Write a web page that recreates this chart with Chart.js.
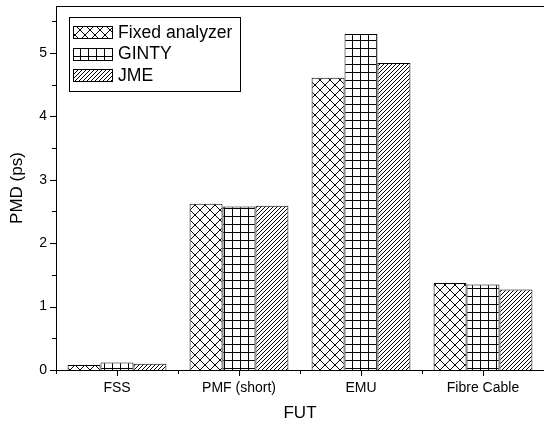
<!DOCTYPE html>
<html>
<head>
<meta charset="utf-8">
<script src="https://cdn.jsdelivr.net/npm/chart.js@4.4.1/dist/chart.umd.min.js"></script>
<style>
  html, body { margin: 0; padding: 0; background: #fff; }
</style>
</head>
<body>
<canvas id="pmd" width="544" height="427"></canvas>
<script>
const categories = ["FSS", "PMF (short)", "EMU", "Fibre Cable"];
const seriesNames = ["Fixed analyzer", "GINTY", "JME"];
const fixedAnalyzer = [0.08, 2.62, 4.61, 1.37];
const ginty = [0.12, 2.58, 5.30, 1.35];
const jme = [0.10, 2.59, 4.84, 1.27];
const yTicks = [0, 1, 2, 3, 4, 5];

const canvas = document.getElementById("pmd");
const ctx = canvas.getContext("2d");
const FONT = "Arial, 'Liberation Sans', sans-serif";

// hatch fills: crosshatch, square grid, forward diagonal
function makePattern(kind) {
  const size = kind === "cross" ? 10 : kind === "grid" ? 8 : 4;
  const c = document.createElement("canvas");
  c.width = size;
  c.height = size;
  const g = c.getContext("2d");
  g.fillStyle = "#fff";
  g.fillRect(0, 0, size, size);
  g.strokeStyle = "#000";
  g.lineWidth = 1;
  g.beginPath();
  if (kind === "cross") {
    g.moveTo(0, 0); g.lineTo(size, size);
    g.moveTo(0, size); g.lineTo(size, 0);
  } else if (kind === "grid") {
    g.moveTo(0.5, 0); g.lineTo(0.5, size);
    g.moveTo(0, 0.5); g.lineTo(size, 0.5);
  } else {
    g.moveTo(-1, size + 1); g.lineTo(size + 1, -1);
    g.moveTo(-1, 1); g.lineTo(1, -1);
    g.moveTo(size - 1, size + 1); g.lineTo(size + 1, size - 1);
  }
  g.stroke();
  return ctx.createPattern(c, "repeat");
}

const fills = [makePattern("cross"), makePattern("grid"), makePattern("diag")];

// axis lines, frame top and in/out tick marks
const axisFrame = {
  id: "axisFrame",
  afterDraw(chart) {
    const { left, right, top, bottom } = chart.chartArea;
    const x = chart.scales.x, y = chart.scales.y;
    const c = chart.ctx;
    c.save();
    c.strokeStyle = "#000";
    c.lineWidth = 1;
    c.beginPath();
    c.moveTo(Math.round(left) + 0.5, top);
    c.lineTo(Math.round(left) + 0.5, bottom);
    c.moveTo(left, Math.round(bottom) + 0.5);
    c.lineTo(right, Math.round(bottom) + 0.5);
    c.moveTo(left, Math.round(top) + 0.5);
    c.lineTo(right, Math.round(top) + 0.5);
    // y ticks, major on integers, minor in between
    yTicks.forEach(v => {
      const py = Math.round(y.getPixelForValue(v)) + 0.5;
      c.moveTo(left - 6, py); c.lineTo(left, py);
      const pm = Math.round(y.getPixelForValue(v + 0.5)) + 0.5;
      if (pm > top) { c.moveTo(left - 4, pm); c.lineTo(left, pm); }
    });
    // x ticks at category centres and boundaries
    categories.forEach((cat, i) => {
      const px = Math.round(x.getPixelForValue(i)) + 0.5;
      c.moveTo(px, bottom); c.lineTo(px, bottom + 6);
      const pb = Math.round(x.getPixelForValue(i - 0.5)) + 0.5;
      c.moveTo(pb, bottom); c.lineTo(pb, bottom + 4);
    });
    c.stroke();
    c.restore();
  }
};

// boxed legend in the upper left corner of the plot
const boxLegend = {
  id: "boxLegend",
  afterDraw(chart) {
    const { left, top } = chart.chartArea;
    const c = chart.ctx;
    const x0 = Math.round(left) + 13, y0 = Math.round(top) + 11;
    c.save();
    c.strokeStyle = "#000";
    c.lineWidth = 1;
    c.fillStyle = "#fff";
    c.fillRect(x0, y0, 171, 74);
    c.strokeRect(x0 + 0.5, y0 + 0.5, 171, 74);
    c.font = "17.6px " + FONT;
    c.textBaseline = "middle";
    chart.data.datasets.forEach((ds, i) => {
      const cy = y0 + 15 + i * 21.5;
      const sy = Math.round(cy - 6);
      c.fillStyle = ds.backgroundColor;
      c.fillRect(x0 + 4, sy, 39, 12);
      c.strokeRect(x0 + 4.5, sy + 0.5, 39, 12);
      c.fillStyle = "#000";
      c.fillText(ds.label, x0 + 49, cy + 1);
    });
    c.restore();
  }
};

new Chart(canvas, {
  type: "bar",
  data: {
    labels: categories,
    datasets: [
      { label: seriesNames[0], data: fixedAnalyzer, backgroundColor: fills[0] },
      { label: seriesNames[1], data: ginty, backgroundColor: fills[1] },
      { label: seriesNames[2], data: jme, backgroundColor: fills[2] },
    ].map(ds => Object.assign(ds, { borderColor: "#000", borderWidth: 1 })),
  },
  options: {
    responsive: false,
    animation: false,
    devicePixelRatio: 1,
    layout: { padding: { top: 6, right: 0, left: 0, bottom: 0 } },
    datasets: { bar: { categoryPercentage: 0.81, barPercentage: 1 } },
    plugins: { legend: { display: false }, tooltip: { enabled: false } },
    scales: {
      x: {
        grid: { display: false, drawTicks: false },
        border: { display: false },
        ticks: { color: "#000", font: { family: FONT, size: 14 }, padding: 10, maxRotation: 0 },
        title: { display: true, text: "FUT", color: "#000", font: { family: FONT, size: 17 }, padding: { top: 0, bottom: 3 } },
        afterFit(s) { s.height = 57; s.paddingLeft = 0; s.paddingRight = 0; },
      },
      y: {
        min: 0,
        max: 5.74,
        grid: { display: false, drawTicks: false },
        border: { display: false },
        ticks: { stepSize: 1, includeBounds: false, color: "#000", font: { family: FONT, size: 14 }, padding: 9 },
        title: { display: true, text: "PMD (ps)", color: "#000", font: { family: FONT, size: 17 }, padding: { top: 7, bottom: 0 } },
        afterFit(s) { s.width = 56; s.paddingTop = 0; s.paddingBottom = 0; },
      },
    },
  },
  plugins: [axisFrame, boxLegend],
});
</script>
</body>
</html>
